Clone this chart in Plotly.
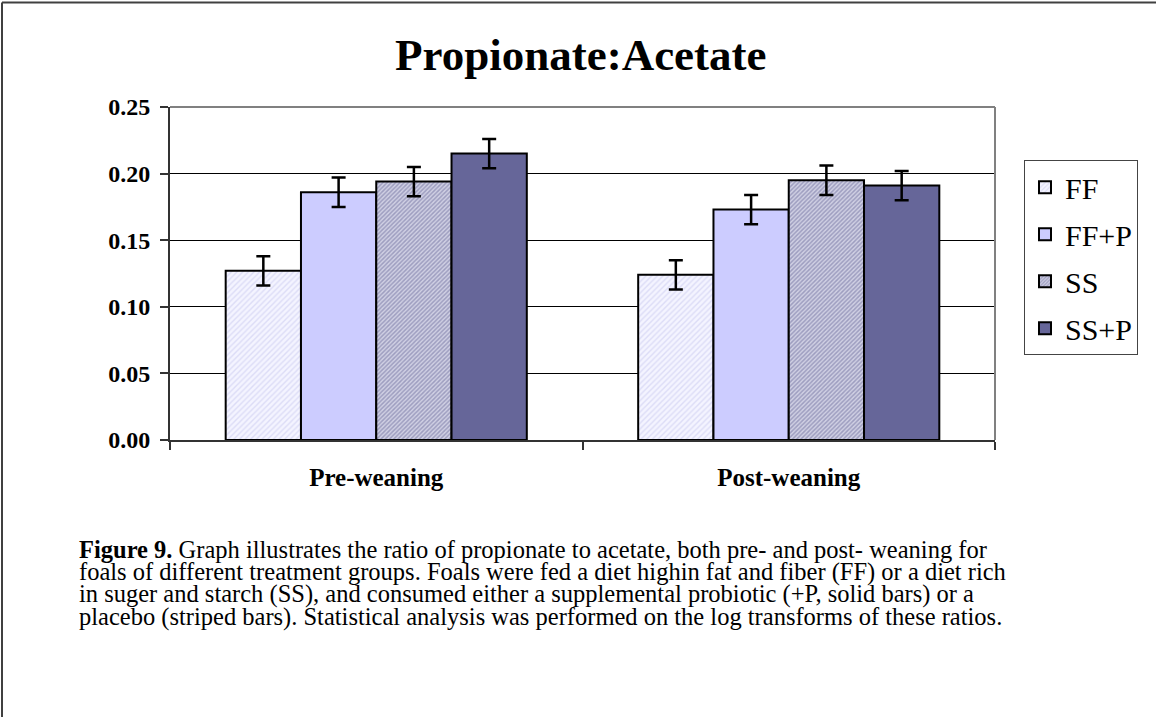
import plotly.graph_objects as go

categories = ["Pre-weaning", "Post-weaning"]
series_names = ["FF", "FF+P", "SS", "SS+P"]
ff = [0.127, 0.124]
ff_p = [0.186, 0.173]
ss = [0.194, 0.195]
ss_p = [0.215, 0.191]
ff_err = [0.011, 0.011]
ff_p_err = [0.011, 0.011]
ss_err = [0.011, 0.011]
ss_p_err = [0.011, 0.011]
y_ticks = [0.0, 0.05, 0.10, 0.15, 0.20, 0.25]
title_text = "Propionate:Acetate"
caption_lines = [
    "<b>Figure 9.</b> Graph illustrates the ratio of propionate to acetate, both pre- and post- weaning for",
    "foals of different treatment groups. Foals were fed a diet highin fat and fiber (FF) or a diet rich",
    "in suger and starch (SS), and consumed either a supplemental probiotic (+P, solid bars) or a",
    "placebo (striped bars). Statistical analysis was performed on the log transforms of these ratios.",
]

W, H = 1156, 717
L, R, T, B = 170, 995, 106.7, 440.3
FONT = "Liberation Serif, Times New Roman, serif"

def px(x):
    return (x - L) / (R - L)

def py(y):
    return (B - y) / (B - T)

styles = [
    dict(color="#F0F0FF", pattern=dict(shape="/", fgcolor="#C4C4EE", bgcolor="#F4F4FF", size=4, solidity=0.35)),
    dict(color="#CCCCFF"),
    dict(color="#A8A8C8", pattern=dict(shape="/", fgcolor="#6A6A9A", bgcolor="#D0D0E4", size=3, solidity=0.5)),
    dict(color="#666699"),
]
values = [ff, ff_p, ss, ss_p]
errors = [ff_err, ff_p_err, ss_err, ss_p_err]

fig = go.Figure()
for i, name in enumerate(series_names):
    marker = dict(styles[i])
    marker["line"] = dict(color="black", width=2)
    fig.add_trace(go.Bar(
        name=name, x=categories, y=values[i], marker=marker,
        legendgroup=name,
        error_y=dict(type="data", array=errors[i], visible=True, color="black", thickness=2.5, width=7),
    ))

fig.update_layout(
    width=W, height=H,
    margin=dict(l=L, r=W - R, t=T, b=H - B, autoexpand=False),
    paper_bgcolor="white", plot_bgcolor="white",
    barmode="group", bargap=0.27, bargroupgap=0,
    showlegend=True,
    legend=dict(
        x=px(1024), y=py(160), xanchor="left", yanchor="top",
        bordercolor="#444444", borderwidth=1, bgcolor="white",
        font=dict(family=FONT, size=30, color="black"),
        tracegroupgap=5, traceorder="grouped",
        itemwidth=30,
    ),
    font=dict(family=FONT, color="black"),
)
fig.update_yaxes(
    range=[0, 0.25], tickvals=y_ticks, tickformat=".2f",
    tickfont=dict(family=FONT, size=24, color="black", weight="bold"),
    showgrid=True, gridcolor="black", gridwidth=1,
    showline=True, linecolor="#333333", linewidth=2,
    ticks="outside", ticklen=8, tickcolor="#333333", tickwidth=1.5,
    ticklabelstandoff=5,
    zeroline=False, fixedrange=True,
)
fig.update_xaxes(
    tickfont=dict(family=FONT, size=25, color="black", weight="bold"),
    showline=True, linecolor="#333333", linewidth=2,
    ticks="outside", tickson="boundaries", ticklen=8, tickcolor="#333333", tickwidth=1.5,
    ticklabelstandoff=14,
    showgrid=False, fixedrange=True,
)

# plot area border (top and right, gray)
fig.add_shape(type="line", xref="paper", yref="paper", x0=0, x1=1, y0=1, y1=1,
              line=dict(color="#808080", width=2))
fig.add_shape(type="line", xref="paper", yref="paper", x0=1, x1=1, y0=0, y1=1,
              line=dict(color="#808080", width=2))
# outer frame (top and left)
fig.add_shape(type="line", xref="paper", yref="paper", x0=px(2), x1=px(W + 5), y0=py(2), y1=py(2),
              line=dict(color="#404040", width=2))
fig.add_shape(type="line", xref="paper", yref="paper", x0=px(2), x1=px(2), y0=py(2), y1=py(H + 5),
              line=dict(color="#404040", width=2))

fig.add_annotation(
    text="<b>" + title_text + "</b>", xref="paper", yref="paper",
    x=px(581), y=py(55), xanchor="center", yanchor="middle", showarrow=False,
    font=dict(family=FONT, size=45, color="black"),
)

for k, line in enumerate(caption_lines):
    fig.add_annotation(
        text=line, xref="paper", yref="paper",
        x=px(77), y=py(550 + k * 22.4), xanchor="left", yanchor="middle", showarrow=False,
        font=dict(family=FONT, size=24.5, color="black"),
    )

fig.write_html(
    "out.html",
    config={"displayModeBar": False},
    post_script="document.body.style.margin='0';document.body.style.padding='0';",
)
